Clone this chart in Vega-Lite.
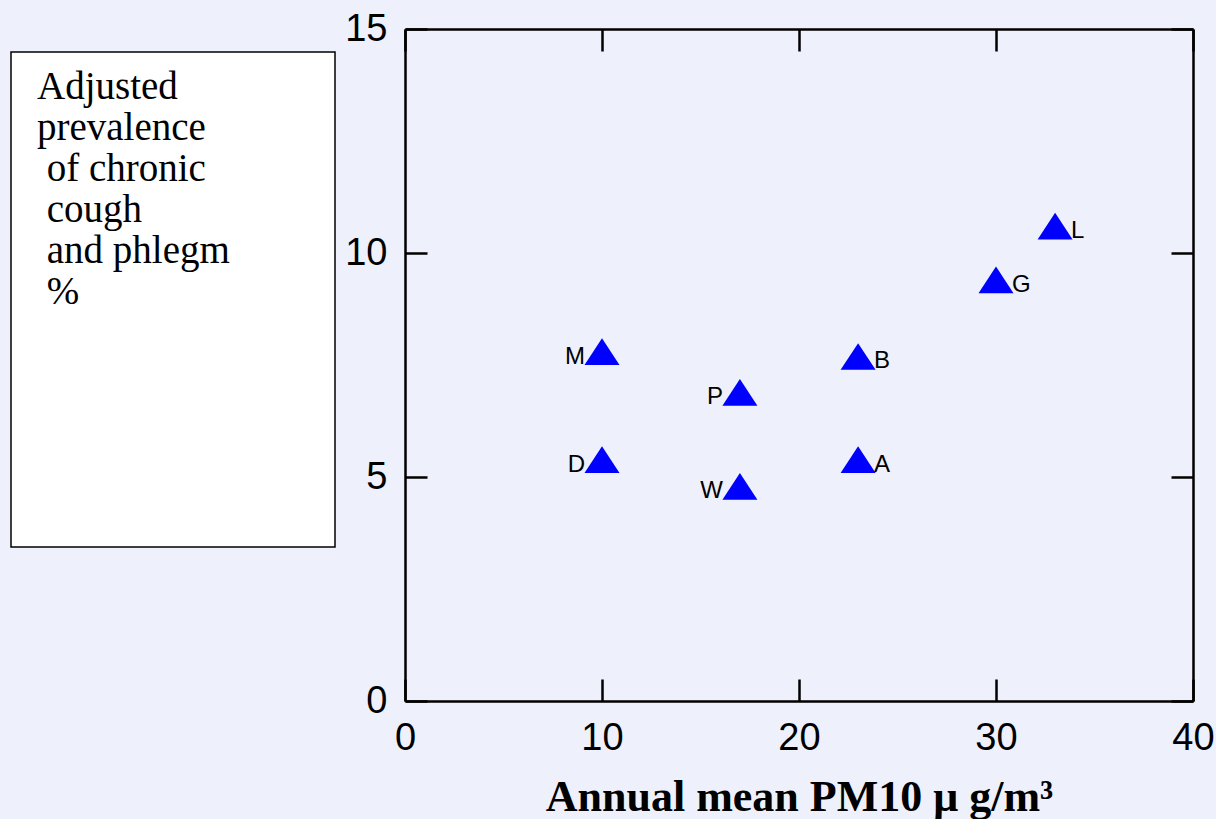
{
  "$schema": "https://vega.github.io/schema/vega-lite/v6.json",
  "background": "#eef0fc",
  "padding": {"left": 10, "top": 10, "right": 5, "bottom": 0},
  "config": {
    "view": {"stroke": null},
    "font": "Liberation Sans",
    "axis": {
      "grid": false,
      "domainColor": "black",
      "domainWidth": 2.5,
      "tickColor": "black",
      "tickWidth": 2.5,
      "tickSize": -22,
      "labelColor": "black",
      "labelFont": "Liberation Sans",
      "labelFontSize": 38,
      "labelFlush": false,
      "labelOverlap": false
    }
  },
  "spacing": 8,
  "hconcat": [
    {
      "spacing": 16,
      "vconcat": [
        {
          "width": 325,
          "height": 1,
          "data": {"values": [{"t": ""}]},
          "mark": {"type": "text"},
          "encoding": {"text": {"field": "t"}}
        },
        {
          "width": 324,
          "height": 495,
          "view": {"stroke": "black", "strokeWidth": 1.5, "fill": "white"},
          "data": {"values": [{"px": 0, "py": 1, "label": ["Adjusted", "prevalence", "\u200b\u00a0of chronic", "\u200b\u00a0cough", "\u200b\u00a0and phlegm", "\u200b\u00a0%"]}]},
          "mark": {"type": "text", "align": "left", "baseline": "alphabetic", "font": "Liberation Serif", "fontSize": 39, "lineHeight": 41, "color": "black", "dx": 26, "dy": 47},
          "encoding": {
            "x": {"field": "px", "type": "quantitative", "scale": {"domain": [0, 1]}, "axis": null},
            "y": {"field": "py", "type": "quantitative", "scale": {"domain": [0, 1]}, "axis": null},
            "text": {"field": "label"}
          }
        }
      ]
    },
    {
      "width": 788,
      "height": 672,
      "data": {"values": [
        {"site": "M", "pm10": 10, "prev": 7.8},
        {"site": "D", "pm10": 10, "prev": 5.39},
        {"site": "P", "pm10": 17, "prev": 6.89},
        {"site": "W", "pm10": 17, "prev": 4.79},
        {"site": "B", "pm10": 23, "prev": 7.69},
        {"site": "A", "pm10": 23, "prev": 5.39},
        {"site": "G", "pm10": 30, "prev": 9.4},
        {"site": "L", "pm10": 33, "prev": 10.6}
      ]},
      "layer": [
        {
          "mark": {"type": "point", "shape": "M-1,0.763L1,0.763L0,-0.763Z", "filled": true, "size": 1225, "color": "#0000ff", "opacity": 1},
          "encoding": {
            "x": {"field": "pm10", "type": "quantitative", "scale": {"domain": [0, 40], "nice": false},
              "axis": {"orient": "bottom", "values": [0, 10, 20, 30, 40], "labelPadding": 40, "title": "Annual mean PM10 \u03bc g/m\u00b3", "titleFont": "Liberation Serif", "titleFontSize": 44, "titleFontWeight": "bold", "titleColor": "black", "titlePadding": 18}},
            "y": {"field": "prev", "type": "quantitative", "scale": {"domain": [0, 15], "nice": false},
              "axis": {"orient": "left", "values": [0, 5, 10, 15], "labelPadding": 40, "title": null}}
          }
        },
        {
          "transform": [{"filter": "indexof(['M','D','P','W'], datum.site) >= 0"}],
          "mark": {"type": "text", "align": "right", "baseline": "alphabetic", "dx": -17, "dy": 12, "fontSize": 24, "color": "black"},
          "encoding": {
            "x": {"field": "pm10", "type": "quantitative", "axis": null},
            "y": {"field": "prev", "type": "quantitative", "axis": null},
            "text": {"field": "site"}
          }
        },
        {
          "transform": [{"filter": "indexof(['M','D','P','W'], datum.site) < 0"}],
          "mark": {"type": "text", "align": "left", "baseline": "alphabetic", "dx": 16, "dy": 12, "fontSize": 24, "color": "black"},
          "encoding": {
            "x": {"field": "pm10", "type": "quantitative", "axis": null},
            "y": {"field": "prev", "type": "quantitative", "axis": null},
            "text": {"field": "site"}
          }
        },
        {
          "mark": {"type": "point", "opacity": 0},
          "encoding": {
            "x": {"field": "pm10", "type": "quantitative", "axis": {"orient": "top", "values": [0, 10, 20, 30, 40], "labels": false, "title": null}},
            "y": {"field": "prev", "type": "quantitative", "axis": {"orient": "right", "values": [0, 5, 10, 15], "labels": false, "title": null}}
          }
        }
      ],
      "resolve": {"axis": {"x": "independent", "y": "independent"}}
    }
  ]
}
